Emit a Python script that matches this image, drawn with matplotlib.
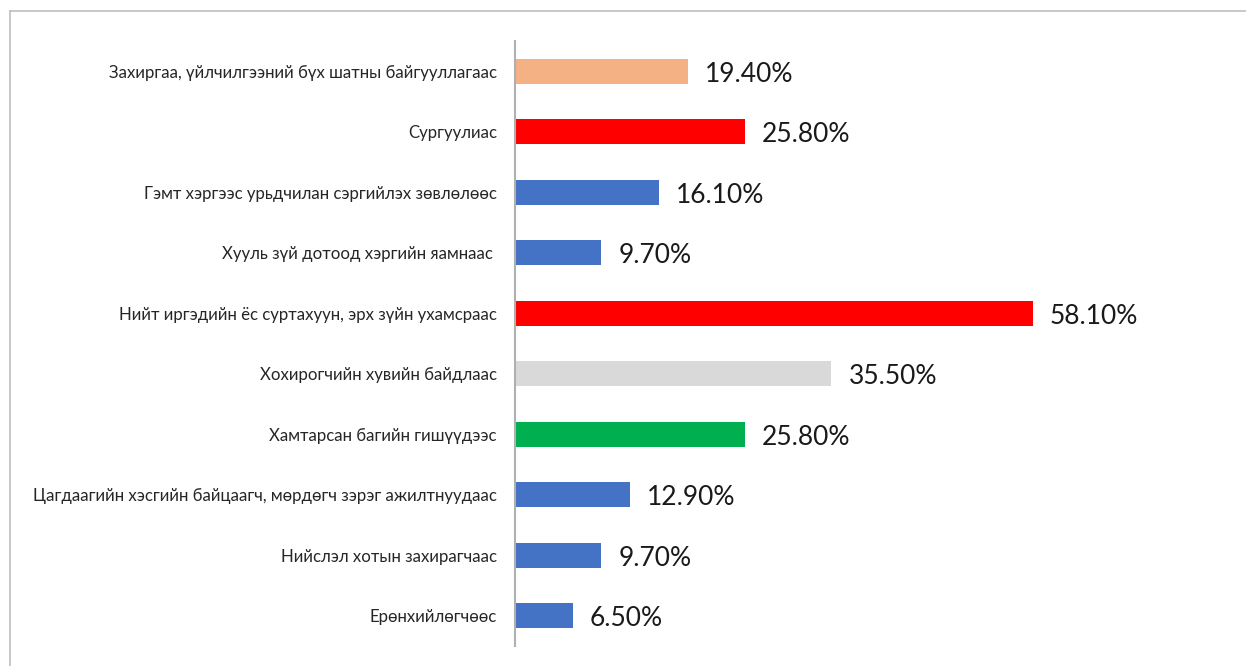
import matplotlib.pyplot as plt
from matplotlib.lines import Line2D

plt.rcParams['font.family'] = ['Lato', 'DejaVu Sans']

categories = [
    'Захиргаа, үйлчилгээний бүх шатны байгууллагаас',
    'Сургуулиас',
    'Гэмт хэргээс урьдчилан сэргийлэх зөвлөлөөс',
    'Хууль зүй дотоод хэргийн яамнаас ',
    'Нийт иргэдийн ёс суртахуун, эрх зүйн ухамсраас',
    'Хохирогчийн хувийн байдлаас',
    'Хамтарсан багийн гишүүдээс',
    'Цагдаагийн хэсгийн байцаагч, мөрдөгч зэрэг ажилтнуудаас',
    'Нийслэл хотын захирагчаас',
    'Ерөнхийлөгчөөс',
]
values = [19.4, 25.8, 16.1, 9.7, 58.1, 35.5, 25.8, 12.9, 9.7, 6.5]
colors = ['#F4B183', '#FF0000', '#4472C4', '#4472C4', '#FF0000',
          '#D9D9D9', '#00B050', '#4472C4', '#4472C4', '#4472C4']

fig = plt.figure(figsize=(12.46, 6.66), dpi=100)

# outer chart frame (left and top edges visible)
fig.add_artist(Line2D([9.5/1246, 9.5/1246], [0, 655/666], color='#bfbfbf', lw=1.2))
fig.add_artist(Line2D([9.5/1246, 1.0], [655/666, 655/666], color='#bfbfbf', lw=1.2))

ax = fig.add_axes([515/1246, 20/666, 624/1246, 605/666])

y = list(range(len(categories)))
ax.barh(y, values, height=0.41, color=colors)
ax.set_ylim(len(categories) - 0.5, -0.5)
ax.set_xlim(0, 70)

for yi, v in zip(y, values):
    ax.text(v + 1.9, yi + 0.05, f'{v:.2f}%', va='center', ha='left',
            fontsize=19, color='#1a1a1a', clip_on=False)

ax.set_yticks(y)
ax.set_yticklabels(categories, fontsize=12.1, color='#262626')
ax.tick_params(axis='y', length=0, pad=13)
ax.set_xticks([])

for s in ['top', 'right', 'bottom']:
    ax.spines[s].set_visible(False)
ax.spines['left'].set_color('#b0b0b0')
ax.spines['left'].set_linewidth(1.5)

fig.savefig('out.png', dpi=100)
